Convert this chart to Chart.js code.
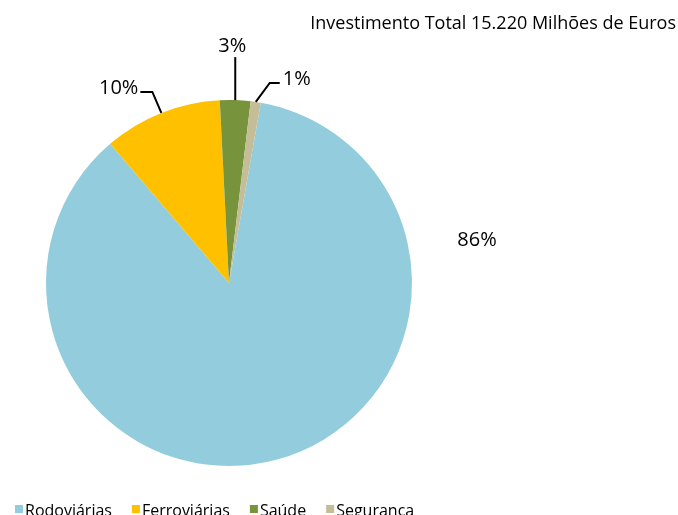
<!DOCTYPE html>
<html>
<head>
<meta charset="utf-8">
<script src="https://cdn.jsdelivr.net/npm/chart.js@4.4.0/dist/chart.umd.min.js"></script>
<style>
  html, body { margin: 0; padding: 0; background: #fff; }
  #wrap { width: 678px; height: 515px; }
</style>
</head>
<body>
<div id="wrap"><canvas id="pie"></canvas></div>
<script>
// investimento por sector (milhões de euros)
var sectores = ['Rodoviárias', 'Ferroviárias', 'Saúde', 'Segurança'];
var investimento = [13085, 1590, 410, 135];
var cores = ['#93CDDD', '#FFC000', '#77933C', '#C4BD97'];
var titulo = 'Investimento Total 15.220 Milhões de Euros';

var FONT = '"Open Sans", sans-serif';

// where each percentage label goes: elbow offset from the slice edge, tail direction
var rotulos = [
    { fixed: true, dx: 248, dy: -43 },
    { dx: -9, dy: -21, tail: -12 },
    { dx: 0, dy: -43, tail: 0 },
    { dx: 14, dy: -19, tail: 10 }
];

var total = investimento.reduce(function (a, b) { return a + b; }, 0);

var labelsPlugin = {
    id: 'rotulos',
    afterDatasetsDraw: function (chart) {
        var ctx = chart.ctx;
        var meta = chart.getDatasetMeta(0);
        ctx.save();
        ctx.font = '20px ' + FONT;
        ctx.fillStyle = '#000';
        ctx.strokeStyle = '#000';
        ctx.lineWidth = 2;
        meta.data.forEach(function (arc, i) {
            var p = arc.getProps(['x', 'y', 'startAngle', 'endAngle', 'outerRadius'], true);
            var mid = (p.startAngle + p.endAngle) / 2;
            var pct = Math.round(investimento[i] / total * 100) + '%';
            var r = rotulos[i];
            if (r.fixed) {
                ctx.textAlign = 'center';
                ctx.textBaseline = 'middle';
                ctx.fillText(pct, p.x + r.dx, p.y + r.dy);
                return;
            }
            var ex = p.x + Math.cos(mid) * p.outerRadius;
            var ey = p.y + Math.sin(mid) * p.outerRadius;
            var bx = ex + r.dx, by = ey + r.dy;
            ctx.beginPath();
            ctx.moveTo(ex, ey);
            ctx.lineTo(bx, by);
            ctx.lineTo(bx + r.tail, by);
            ctx.stroke();
            if (r.tail === 0) {
                ctx.textAlign = 'center';
                ctx.textBaseline = 'alphabetic';
                ctx.fillText(pct, bx - 3, by - 5);
            } else if (r.tail < 0) {
                ctx.textAlign = 'right';
                ctx.textBaseline = 'middle';
                ctx.fillText(pct, bx + r.tail - 2, by - 4);
            } else {
                ctx.textAlign = 'left';
                ctx.textBaseline = 'middle';
                ctx.fillText(pct, bx + r.tail + 3, by - 4);
            }
        });
        ctx.restore();
    },
    afterDraw: function (chart) {
        var ctx = chart.ctx;
        ctx.save();
        // title, top right
        ctx.font = '18px ' + FONT;
        ctx.fillStyle = '#000';
        ctx.textAlign = 'right';
        ctx.textBaseline = 'alphabetic';
        ctx.fillText(titulo, 676, 29);
        // legend along the bottom
        ctx.font = '16px ' + FONT;
        ctx.textAlign = 'left';
        var x = 15;
        sectores.forEach(function (nome, i) {
            ctx.fillStyle = cores[i];
            ctx.fillRect(x, 505, 8, 8);
            ctx.fillStyle = '#000';
            ctx.fillText(nome, x + 10, 516);
            x += 10 + ctx.measureText(nome).width + 20;
        });
        ctx.restore();
    }
};

new Chart(document.getElementById('pie').getContext('2d'), {
    type: 'pie',
    data: {
        labels: sectores,
        datasets: [{
            data: investimento,
            backgroundColor: cores,
            borderWidth: 0
        }]
    },
    options: {
        responsive: true,
        maintainAspectRatio: false,
        animation: false,
        rotation: 10,
        layout: { padding: { left: 46, right: 266, top: 100, bottom: 49 } },
        plugins: {
            legend: { display: false },
            title: { display: false },
            tooltip: { enabled: false }
        }
    },
    plugins: [labelsPlugin]
});
</script>
</body>
</html>
